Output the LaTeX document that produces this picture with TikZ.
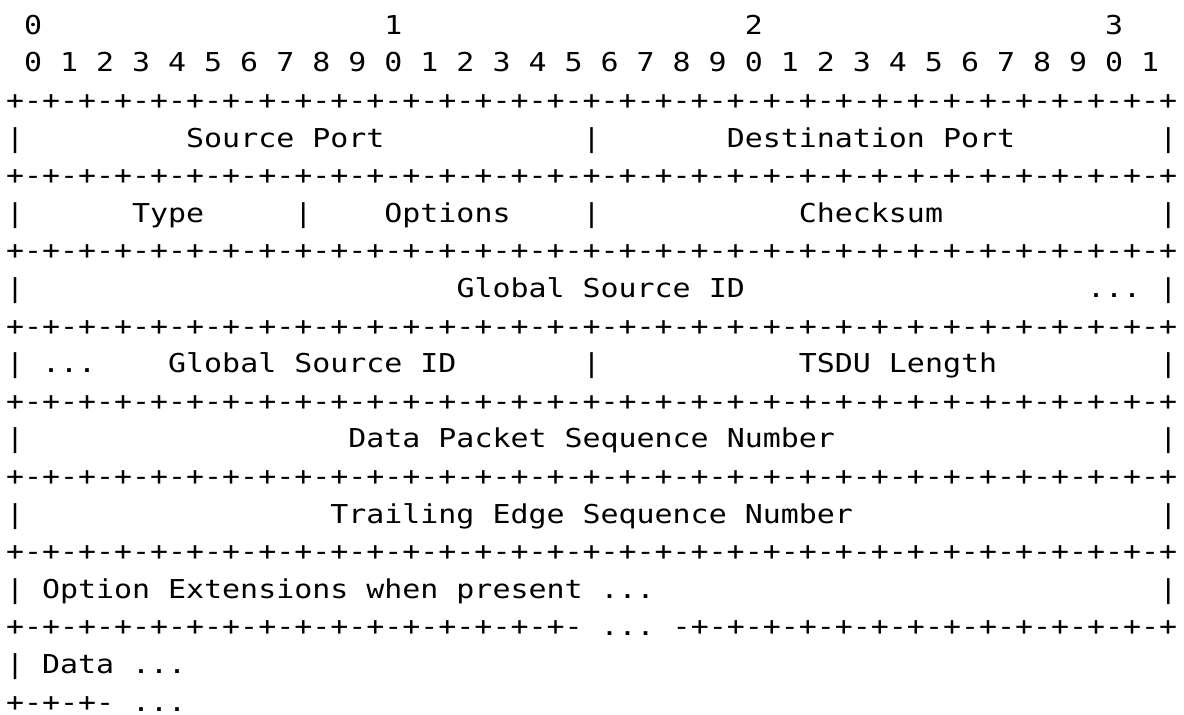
\documentclass[tikz,border=0pt]{standalone}
\usepackage{fontspec}
\newfontfamily\asciimono[FakeStretch=1.1512]{DejaVu Sans Mono}
\tikzset{
  ascii/.style={anchor=base west, inner sep=0pt, outer sep=0pt, text=black,
    font=\asciimono\fontsize{26}{30}\selectfont}
}
% column c, row r  ->  position
\newcommand\atcell[2]{({6+18.02*(#1)},{34.3+37.6*(#2)})}
\def\ruleline{+-+-+-+-+-+-+-+-+-+-+-+-+-+-+-+-+-+-+-+-+-+-+-+-+-+-+-+-+-+-+-+-+}
\begin{document}
\begin{tikzpicture}[x=1pt,y=-1pt]
\useasboundingbox[fill=white] (0,0) rectangle (1184,715);
% header rows
\node[ascii] (h0a) at \atcell{1}{0} {0};
\node[ascii] (h0b) at \atcell{21}{0} {1};
\node[ascii] (h0c) at \atcell{41}{0} {2};
\node[ascii] (h0d) at \atcell{61}{0} {3};
\node[ascii] (h1) at \atcell{1}{1} {0 1 2 3 4 5 6 7 8 9 0 1 2 3 4 5 6 7 8 9 0 1 2 3 4 5 6 7 8 9 0 1};
% rule lines
\node[ascii] (rl2) at \atcell{0}{2} {\ruleline};
\node[ascii] (rl4) at \atcell{0}{4} {\ruleline};
\node[ascii] (rl6) at \atcell{0}{6} {\ruleline};
\node[ascii] (rl8) at \atcell{0}{8} {\ruleline};
\node[ascii] (rl10) at \atcell{0}{10} {\ruleline};
\node[ascii] (rl12) at \atcell{0}{12} {\ruleline};
\node[ascii] (rl14) at \atcell{0}{14} {\ruleline};
\node[ascii] (rl16a) at \atcell{0}{16} {+-+-+-+-+-+-+-+-+-+-+-+-+-+-+-+-};
\node[ascii] (rl16b) at \atcell{33}{16} {...};
\node[ascii] (rl16c) at \atcell{37}{16} {-+-+-+-+-+-+-+-+-+-+-+-+-+-+};
\node[ascii] (rl18a) at \atcell{0}{18} {+-+-+-};
\node[ascii] (rl18b) at \atcell{7}{18} {...};
% row 3
\node[ascii] (r3a) at \atcell{0}{3} {|};
\node[ascii] (r3b) at \atcell{10}{3} {Source Port};
\node[ascii] (r3c) at \atcell{32}{3} {|};
\node[ascii] (r3d) at \atcell{40}{3} {Destination Port};
\node[ascii] (r3e) at \atcell{64}{3} {|};
% row 5
\node[ascii] (r5a) at \atcell{0}{5} {|};
\node[ascii] (r5b) at \atcell{7}{5} {Type};
\node[ascii] (r5c) at \atcell{16}{5} {|};
\node[ascii] (r5d) at \atcell{21}{5} {Options};
\node[ascii] (r5e) at \atcell{32}{5} {|};
\node[ascii] (r5f) at \atcell{44}{5} {Checksum};
\node[ascii] (r5g) at \atcell{64}{5} {|};
% row 7
\node[ascii] (r7a) at \atcell{0}{7} {|};
\node[ascii] (r7b) at \atcell{25}{7} {Global Source ID};
\node[ascii] (r7c) at \atcell{60}{7} {...};
\node[ascii] (r7d) at \atcell{64}{7} {|};
% row 9
\node[ascii] (r9a) at \atcell{0}{9} {|};
\node[ascii] (r9b) at \atcell{2}{9} {...};
\node[ascii] (r9c) at \atcell{9}{9} {Global Source ID};
\node[ascii] (r9d) at \atcell{32}{9} {|};
\node[ascii] (r9e) at \atcell{44}{9} {TSDU Length};
\node[ascii] (r9f) at \atcell{64}{9} {|};
% row 11
\node[ascii] (r11a) at \atcell{0}{11} {|};
\node[ascii] (r11b) at \atcell{19}{11} {Data Packet Sequence Number};
\node[ascii] (r11c) at \atcell{64}{11} {|};
% row 13
\node[ascii] (r13a) at \atcell{0}{13} {|};
\node[ascii] (r13b) at \atcell{18}{13} {Trailing Edge Sequence Number};
\node[ascii] (r13c) at \atcell{64}{13} {|};
% row 15
\node[ascii] (r15a) at \atcell{0}{15} {|};
\node[ascii] (r15b) at \atcell{2}{15} {Option Extensions when present ...};
\node[ascii] (r15c) at \atcell{64}{15} {|};
% row 17
\node[ascii] (r17a) at \atcell{0}{17} {|};
\node[ascii] (r17b) at \atcell{2}{17} {Data ...};
\end{tikzpicture}
\end{document}
